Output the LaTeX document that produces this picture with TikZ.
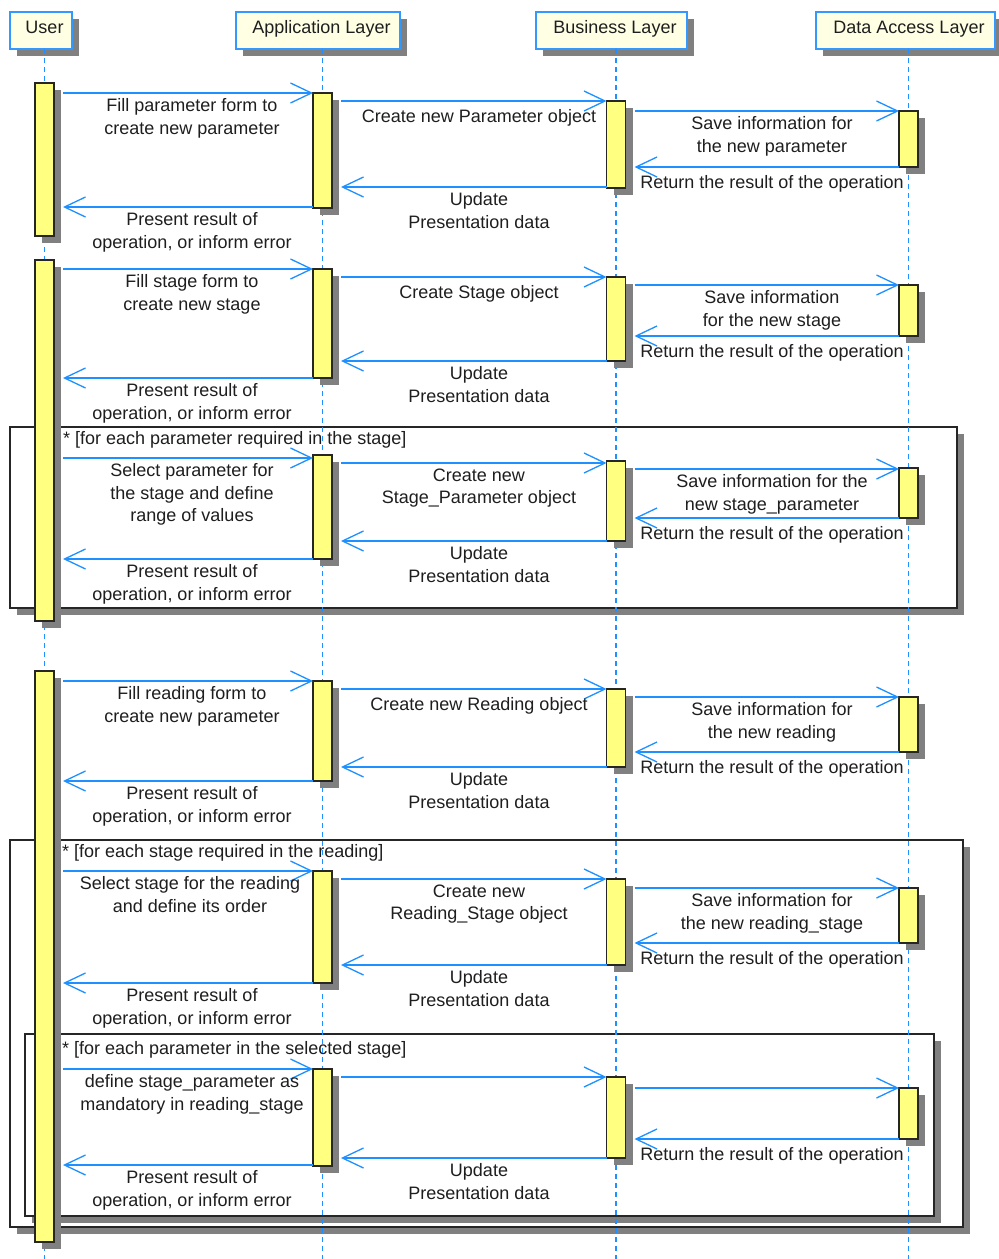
\documentclass[tikz,border=0pt]{standalone}
\usepackage{fontspec}
\setmainfont{Liberation Sans}
\usetikzlibrary{arrows.meta,shadows}

\definecolor{msgblue}{RGB}{30,144,255}
\definecolor{headblue}{RGB}{51,153,255}
\definecolor{headfill}{RGB}{255,255,228}
\definecolor{barfill}{RGB}{255,255,128}
\definecolor{shade}{RGB}{128,128,128}
\definecolor{ink}{RGB}{30,30,30}

\newcommand\lblfont{\fontsize{18}{22.5}\selectfont}
\newcounter{lblno}

% activation bar: name, x, top, bottom
\newcommand\abar[4]{\node[actbar, minimum height={#4-#3}] (#1) at (#2,#3) {};}
% forward call: from, to, y, label x, label text
\newcommand\fmsg[5]{%
  \draw[msg, shorten <=9pt] (#1.east |- 0,#3) -- (#2.west |- 0,#3);
  \stepcounter{lblno}\node[lbl] (lbl\thelblno) at (#4,#3+5.5) {#5};}
% forward call without text
\newcommand\fmsgbare[3]{%
  \draw[msg, shorten <=9pt] (#1.east |- 0,#3) -- (#2.west |- 0,#3);}
% return: from, to, y, label x, label text
\newcommand\rmsg[5]{%
  \draw[msg, shorten >=9pt] (#1.west |- 0,#3) -- (#2.east |- 0,#3);
  \stepcounter{lblno}\node[lbl] (lbl\thelblno) at (#4,#3+5.5) {#5};}

\tikzset{
  box shadow/.style={drop shadow={shadow xshift=7pt, shadow yshift=-7pt, fill=shade, opacity=1}},
  header/.style={draw=headblue, line width=1.5pt, fill=headfill, box shadow,
    minimum height=37pt, inner sep=0pt, outer sep=0pt, font=\lblfont, text=ink,
    text height=12.5pt, text depth=6pt, execute at begin node=\hspace*{7pt}},
  lifeline/.style={draw=msgblue, line width=1.3pt, dash pattern=on 5pt off 4pt},
  actbar/.style={draw=black!85, line width=1.5pt, fill=barfill, box shadow,
    minimum width=19pt, inner sep=0pt, outer sep=0pt, anchor=north},
  loopframe/.style={draw=black!85, line width=1.5pt, fill=white, box shadow,
    inner sep=0pt, outer sep=0pt, anchor=north west},
  msg/.style={draw=msgblue, line width=1.3pt, -{Straight Barb[length=21pt,width=20pt]}},
  lbl/.style={anchor=north, inner sep=0pt, align=center, font=\lblfont, text=ink,
    execute at begin node=\strut},
  guard/.style={anchor=base west, inner sep=0pt, font=\lblfont, text=ink},
}

\begin{document}
\begin{tikzpicture}[x=1pt,y=-1pt]
\useasboundingbox (0,0) rectangle (999,1259);

% participants
\node[header, minimum width=62pt]  (hu) at (41,30.5)    {User};
\node[header, minimum width=164pt] (ha) at (318,30.5)   {Application Layer};
\node[header, minimum width=151pt] (hb) at (611.5,30.5) {Business Layer};
\node[header, minimum width=179pt] (hd) at (905.5,30.5) {Data Access Layer};

% loop frames
\node[loopframe, minimum width=947pt, minimum height=181pt] (loopa) at (10,427) {};
\node[guard] (guarda) at (63,444) {* [for each parameter required in the stage]};
\node[loopframe, minimum width=953pt, minimum height=387pt] (loopb) at (10,840) {};
\node[guard] (guardb) at (62,857) {* [for each stage required in the reading]};
\node[loopframe, minimum width=909pt, minimum height=182pt] (loopc) at (25,1034) {};
\node[guard] (guardc) at (62,1054) {* [for each parameter in the selected stage]};

% lifelines
\draw[lifeline] (hu.south -| 44.5,0) -- (44.5,1259);
\draw[lifeline] (ha.south -| 322.5,0) -- (322.5,1259);
\draw[lifeline] (hb.south -| 616,0) -- (616,1259);
\draw[lifeline] (hd.south -| 908.5,0) -- (908.5,1259);

% activation bars
\abar{ua1}{44.5}{83}{236}
\abar{ua2}{44.5}{260}{621}
\abar{ua3}{44.5}{671}{1242}

\abar{aa1}{322.5}{93}{208}
\abar{ba1}{616}{101}{188}
\abar{da1}{908.5}{111}{167}

\abar{aa2}{322.5}{269}{378}
\abar{ba2}{616}{277}{361}
\abar{da2}{908.5}{285}{336}

\abar{aa3}{322.5}{455}{559}
\abar{ba3}{616}{461}{541}
\abar{da3}{908.5}{468}{518}

\abar{aa4}{322.5}{681}{781}
\abar{ba4}{616}{689}{767}
\abar{da4}{908.5}{697}{752}

\abar{aa5}{322.5}{871}{983}
\abar{ba5}{616}{879}{965}
\abar{da5}{908.5}{888}{943}

\abar{aa6}{322.5}{1069}{1166}
\abar{ba6}{616}{1077}{1158}
\abar{da6}{908.5}{1088}{1139}

% new parameter
\fmsg{ua1}{aa1}{93}{192}{Fill parameter form to\\create new parameter}
\fmsg{aa1}{ba1}{101}{479}{Create new Parameter object}
\fmsg{ba1}{da1}{111}{772}{Save information for\\the new parameter}
\rmsg{da1}{ba1}{167}{772}{Return the result of the operation}
\rmsg{ba1}{aa1}{187}{479}{Update\\Presentation data}
\rmsg{aa1}{ua1}{207}{192}{Present result of\\operation, or inform error}

% new stage
\fmsg{ua2}{aa2}{269}{192}{Fill stage form to\\create new stage}
\fmsg{aa2}{ba2}{277}{479}{Create Stage object}
\fmsg{ba2}{da2}{285}{772}{Save information\\for the new stage}
\rmsg{da2}{ba2}{336}{772}{Return the result of the operation}
\rmsg{ba2}{aa2}{361}{479}{Update\\Presentation data}
\rmsg{aa2}{ua2}{378}{192}{Present result of\\operation, or inform error}

% stage parameters
\fmsg{ua2}{aa3}{458}{192}{Select parameter for\\the stage and define\\range of values}
\fmsg{aa3}{ba3}{463}{479}{Create new\\Stage\_Parameter object}
\fmsg{ba3}{da3}{469}{772}{Save information for the\\new stage\_parameter}
\rmsg{da3}{ba3}{518}{772}{Return the result of the operation}
\rmsg{ba3}{aa3}{541}{479}{Update\\Presentation data}
\rmsg{aa3}{ua2}{559}{192}{Present result of\\operation, or inform error}

% new reading
\fmsg{ua3}{aa4}{681}{192}{Fill reading form to\\create new parameter}
\fmsg{aa4}{ba4}{689}{479}{Create new Reading object}
\fmsg{ba4}{da4}{697}{772}{Save information for\\the new reading}
\rmsg{da4}{ba4}{752}{772}{Return the result of the operation}
\rmsg{ba4}{aa4}{767}{479}{Update\\Presentation data}
\rmsg{aa4}{ua3}{781}{192}{Present result of\\operation, or inform error}

% reading stages
\fmsg{ua3}{aa5}{871}{190}{Select stage for the reading\\and define its order}
\fmsg{aa5}{ba5}{879}{479}{Create new\\Reading\_Stage object}
\fmsg{ba5}{da5}{888}{772}{Save information for\\the new reading\_stage}
\rmsg{da5}{ba5}{943}{772}{Return the result of the operation}
\rmsg{ba5}{aa5}{965}{479}{Update\\Presentation data}
\rmsg{aa5}{ua3}{983}{192}{Present result of\\operation, or inform error}

% mandatory parameters of a reading stage
\fmsg{ua3}{aa6}{1069}{192}{define stage\_parameter as\\mandatory in reading\_stage}
\fmsgbare{aa6}{ba6}{1077}
\fmsgbare{ba6}{da6}{1088}
\rmsg{da6}{ba6}{1139}{772}{Return the result of the operation}
\rmsg{ba6}{aa6}{1158}{479}{Update\\Presentation data}
\rmsg{aa6}{ua3}{1165}{192}{Present result of\\operation, or inform error}
\end{tikzpicture}
\end{document}
